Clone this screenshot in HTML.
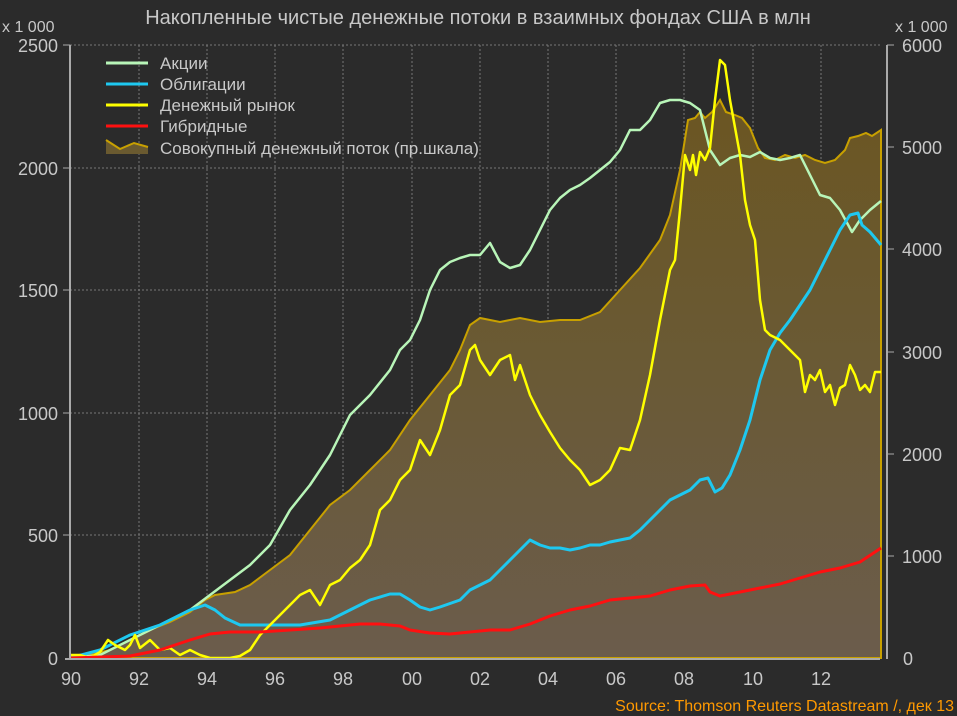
<!DOCTYPE html>
<html><head><meta charset="utf-8"><style>
body{margin:0;background:#2b2b2b;}
svg{display:block;font-family:"Liberation Sans","Noto Sans CJK SC",sans-serif;}
</style></head><body>
<svg width="957" height="716" viewBox="0 0 957 716" xmlns="http://www.w3.org/2000/svg">
<defs>
<linearGradient id="g" x1="0" y1="0" x2="0" y2="1">
<stop offset="0" stop-color="#6b5622"/><stop offset="0.5" stop-color="#6a5a36"/><stop offset="1" stop-color="#6b5c4c"/>
</linearGradient>
</defs>
<rect width="957" height="716" fill="#2b2b2b"/>
<text x="478" y="24" text-anchor="middle" font-size="20" fill="#c8c8c8">Накопленные чистые денежные потоки в взаимных фондах США в млн</text>
<text x="2" y="32" font-size="16" fill="#c8c8c8">x 1 000</text>
<text x="895" y="32" font-size="16" fill="#c8c8c8">x 1 000</text>
<g stroke="#777" stroke-width="1" stroke-dasharray="2,2">
<line x1="70" y1="45" x2="880" y2="45"/><line x1="70" y1="168" x2="880" y2="168"/><line x1="70" y1="290" x2="880" y2="290"/><line x1="70" y1="413" x2="880" y2="413"/><line x1="70" y1="535" x2="880" y2="535"/>
<line x1="139" y1="45" x2="139" y2="658"/><line x1="207" y1="45" x2="207" y2="658"/><line x1="275" y1="45" x2="275" y2="658"/><line x1="343" y1="45" x2="343" y2="658"/><line x1="412" y1="45" x2="412" y2="658"/><line x1="480" y1="45" x2="480" y2="658"/><line x1="548" y1="45" x2="548" y2="658"/><line x1="616" y1="45" x2="616" y2="658"/><line x1="684" y1="45" x2="684" y2="658"/><line x1="753" y1="45" x2="753" y2="658"/><line x1="821" y1="45" x2="821" y2="658"/>
</g>
<polygon fill="url(#g)" stroke="#c8a000" stroke-width="2" points="70,658 90,655 110,650 130,640 150,630 170,622 190,612 205,600 215,595 235,592 250,585 270,570 290,555 310,530 330,505 350,490 370,470 390,450 410,420 430,395 450,370 460,350 470,325 480,318 500,322 520,318 540,322 560,320 580,320 600,312 620,290 640,268 660,240 670,215 680,170 688,120 695,118 700,112 705,118 712,112 720,100 726,112 735,115 742,118 750,128 758,148 765,158 775,160 785,155 795,158 805,155 815,160 825,163 835,160 845,150 850,138 858,136 866,133 872,136 881,130 881,658"/>
<polyline fill="none" stroke="#b8f5b8" stroke-width="2.5" stroke-linejoin="round" points="70,658 100,655 130,640 160,625 190,610 210,595 230,580 250,565 270,545 290,510 310,485 330,455 350,415 370,395 390,370 400,350 410,340 420,320 430,290 440,270 450,262 460,258 470,255 480,255 490,243 500,262 510,268 520,265 530,250 540,230 550,210 560,198 570,190 580,185 590,178 600,170 610,162 620,150 630,130 640,130 650,120 660,103 670,100 680,100 690,103 700,110 710,150 720,165 730,158 740,155 750,157 760,152 770,158 780,160 790,158 800,155 810,175 820,195 830,198 840,210 852,232 860,220 870,210 881,201"/>
<polyline fill="none" stroke="#1ec8f0" stroke-width="3" stroke-linejoin="round" points="70,658 100,650 130,635 160,625 190,610 205,605 215,610 225,618 240,625 270,625 300,625 330,620 350,610 370,600 390,594 400,594 410,600 420,607 430,610 440,607 460,600 470,590 480,585 490,580 500,570 510,560 520,550 530,540 540,545 550,548 560,548 570,550 580,548 590,545 600,545 610,542 620,540 630,538 640,530 650,520 660,510 670,500 680,495 690,490 700,480 708,478 715,492 722,488 730,475 740,450 750,420 760,380 770,350 780,333 790,320 800,305 810,290 820,270 830,250 840,230 850,215 858,213 862,225 870,232 881,245"/>
<polyline fill="none" stroke="#ffff00" stroke-width="2.5" stroke-linejoin="round" points="70,655 80,655 90,658 100,652 108,640 115,645 125,650 130,645 135,635 140,648 150,640 160,650 170,648 180,655 190,650 200,655 210,658 230,658 240,656 250,650 260,635 270,625 280,615 290,605 300,595 310,590 320,605 330,585 340,580 350,568 360,560 370,545 380,510 390,500 400,480 410,470 420,440 430,455 440,430 450,395 460,385 470,350 475,345 480,360 490,375 500,360 510,355 515,380 520,365 530,395 540,415 550,432 560,448 570,460 580,470 590,485 600,480 610,470 620,448 630,450 640,420 650,375 660,320 670,270 675,260 680,210 685,155 690,170 693,155 696,175 700,152 705,160 710,148 715,100 720,60 725,65 730,100 740,155 745,200 750,225 755,240 760,300 765,330 770,335 780,340 790,350 800,360 805,392 810,375 815,380 820,370 825,392 830,385 835,405 840,388 845,385 850,365 855,375 860,390 865,385 870,392 875,372 881,372"/>
<polyline fill="none" stroke="#ff1010" stroke-width="3" stroke-linejoin="round" points="70,658 130,656 160,650 190,640 210,634 230,632 260,632 290,630 320,628 340,626 360,624 380,624 400,626 410,630 430,633 450,634 470,632 490,630 510,630 530,624 550,616 570,610 590,606 610,600 630,598 650,596 670,590 690,586 705,585 710,592 720,596 740,592 760,588 780,584 800,578 820,572 840,568 860,562 881,548"/>
<g stroke="#aaa" stroke-width="2"><line x1="70" y1="45" x2="70" y2="659"/><line x1="887" y1="45" x2="887" y2="659"/><line x1="65" y1="659" x2="880" y2="659"/></g>
<g stroke="#aaa" stroke-width="1">
<line x1="63" y1="45" x2="70" y2="45"/><line x1="63" y1="168" x2="70" y2="168"/><line x1="63" y1="290" x2="70" y2="290"/><line x1="63" y1="413" x2="70" y2="413"/><line x1="63" y1="535" x2="70" y2="535"/>
<line x1="887" y1="45" x2="894" y2="45"/><line x1="887" y1="147" x2="894" y2="147"/><line x1="887" y1="249" x2="894" y2="249"/><line x1="887" y1="352" x2="894" y2="352"/><line x1="887" y1="454" x2="894" y2="454"/><line x1="887" y1="556" x2="894" y2="556"/>
</g>
<g fill="#c8c8c8" font-size="18" text-anchor="end">
<text x="58" y="52">2500</text><text x="58" y="175">2000</text><text x="58" y="297">1500</text><text x="58" y="420">1000</text><text x="58" y="542">500</text><text x="58" y="665">0</text>
</g>
<g fill="#c8c8c8" font-size="18" text-anchor="end">
<text x="942" y="52">6000</text><text x="942" y="154">5000</text><text x="942" y="256">4000</text><text x="942" y="359">3000</text><text x="942" y="461">2000</text><text x="942" y="563">1000</text><text x="913" y="665">0</text>
</g>
<g fill="#c8c8c8" font-size="18" text-anchor="middle">
<text x="71" y="685">90</text><text x="139" y="685">92</text><text x="207" y="685">94</text><text x="275" y="685">96</text><text x="343" y="685">98</text><text x="412" y="685">00</text><text x="480" y="685">02</text><text x="548" y="685">04</text><text x="616" y="685">06</text><text x="684" y="685">08</text><text x="753" y="685">10</text><text x="821" y="685">12</text>
</g>
<text x="954" y="711" text-anchor="end" font-size="16" fill="#ff9900">Source: Thomson Reuters Datastream /, дек 13</text>
<g font-size="17" fill="#c8c8c8">
<line x1="106" y1="63" x2="148" y2="63" stroke="#b8f5b8" stroke-width="3"/><text x="160" y="69">Акции</text>
<line x1="106" y1="84" x2="148" y2="84" stroke="#1ec8f0" stroke-width="3"/><text x="160" y="90">Облигации</text>
<line x1="106" y1="105" x2="148" y2="105" stroke="#ffff00" stroke-width="3"/><text x="160" y="111">Денежный рынок</text>
<line x1="106" y1="126" x2="148" y2="126" stroke="#ff1010" stroke-width="3"/><text x="160" y="132">Гибридные</text>
<polygon points="106,140 120,149 134,143 148,147 148,154 106,154" fill="#6a5a30" stroke="none"/>
<polyline points="106,140 120,149 134,143 148,147" fill="none" stroke="#c8a000" stroke-width="2"/>
<text x="160" y="154">Совокупный денежный поток (пр.шкала)</text>
</g>
</svg>
</body></html>
